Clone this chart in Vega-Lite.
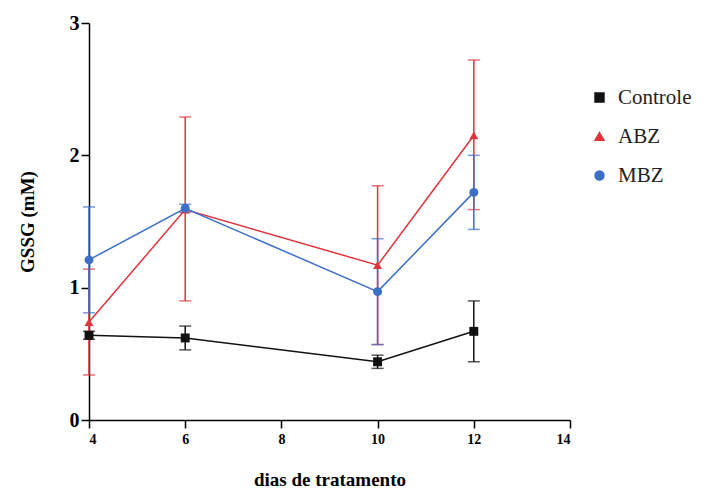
{
  "$schema": "https://vega.github.io/schema/vega-lite/v6.json",
  "width": 481,
  "height": 397,
  "autosize": "none",
  "padding": {"left": 89, "top": 23, "right": 143, "bottom": 69},
  "background": "white",
  "config": {
    "view": {"stroke": null},
    "font": "Liberation Serif",
    "axis": {
      "grid": false,
      "domainColor": "black",
      "tickColor": "black",
      "labelColor": "black",
      "titleColor": "black",
      "labelFont": "Liberation Serif",
      "titleFont": "Liberation Serif",
      "domainWidth": 1.5,
      "tickWidth": 1.5,
      "tickSize": 8
    },
    "legend": {"labelFont": "Liberation Serif"}
  },
  "data": {
    "values": [
      {"g": "Controle", "d": 4, "v": 0.64, "lo": 0.61, "hi": 0.67},
      {"g": "Controle", "d": 6, "v": 0.62, "lo": 0.53, "hi": 0.71},
      {"g": "Controle", "d": 10, "v": 0.44, "lo": 0.39, "hi": 0.49},
      {"g": "Controle", "d": 12, "v": 0.67, "lo": 0.44, "hi": 0.9},
      {"g": "ABZ", "d": 4, "v": 0.74, "lo": 0.34, "hi": 1.14},
      {"g": "ABZ", "d": 6, "v": 1.59, "lo": 0.9, "hi": 2.29},
      {"g": "ABZ", "d": 10, "v": 1.17, "lo": 0.57, "hi": 1.77},
      {"g": "ABZ", "d": 12, "v": 2.15, "lo": 1.59, "hi": 2.72},
      {"g": "MBZ", "d": 4, "v": 1.21, "lo": 0.81, "hi": 1.61},
      {"g": "MBZ", "d": 6, "v": 1.6, "lo": 1.57, "hi": 1.63},
      {"g": "MBZ", "d": 10, "v": 0.97, "lo": 0.57, "hi": 1.37},
      {"g": "MBZ", "d": 12, "v": 1.72, "lo": 1.44, "hi": 2.0}
    ]
  },
  "encoding": {
    "x": {
      "field": "d",
      "type": "quantitative",
      "scale": {"domain": [4, 14], "nice": false, "zero": false},
      "axis": {
        "values": [4, 6, 8, 10, 12, 14],
        "format": "d",
        "title": "dias de tratamento",
        "labelFontSize": 14,
        "labelFontWeight": "bold",
        "labelPadding": 4,
        "titleFontSize": 19,
        "titleFontWeight": "bold",
        "titlePadding": 24
      }
    },
    "color": {
      "field": "g",
      "type": "nominal",
      "scale": {"domain": ["Controle", "ABZ", "MBZ"], "range": ["#111111", "#e0333c", "#3b6fc9"]},
      "legend": {
        "title": null,
        "orient": "none",
        "legendX": 500,
        "legendY": 64,
        "labelFontSize": 21,
        "labelFont": "Liberation Serif",
        "labelColor": "#222222",
        "symbolSize": 80,
        "symbolOpacity": 1,
        "rowPadding": 17,
        "labelOffset": 8
      }
    }
  },
  "layer": [
    {
      "mark": {"type": "errorbar", "ticks": {"size": 12}, "thickness": 1.5},
      "encoding": {
        "y": {
          "field": "lo",
          "type": "quantitative",
          "scale": {"domain": [0, 3], "nice": false},
          "axis": {
            "values": [0, 1, 2, 3],
            "format": "d",
            "title": "GSSG (mM)",
            "labelFontSize": 20,
            "labelFontWeight": "bold",
            "labelPadding": 2,
            "titleFontSize": 19,
            "titleFontWeight": "bold",
            "titlePadding": 32
          }
        },
        "y2": {"field": "hi"}
      }
    },
    {
      "mark": {"type": "line", "strokeWidth": 1.5},
      "encoding": {"y": {"field": "v", "type": "quantitative"}}
    },
    {
      "mark": {"type": "point", "filled": true, "size": 80, "opacity": 1},
      "encoding": {
        "y": {"field": "v", "type": "quantitative"},
        "shape": {
          "field": "g",
          "type": "nominal",
          "scale": {"domain": ["Controle", "ABZ", "MBZ"], "range": ["square", "triangle-up", "circle"]},
          "legend": null
        }
      }
    }
  ]
}
